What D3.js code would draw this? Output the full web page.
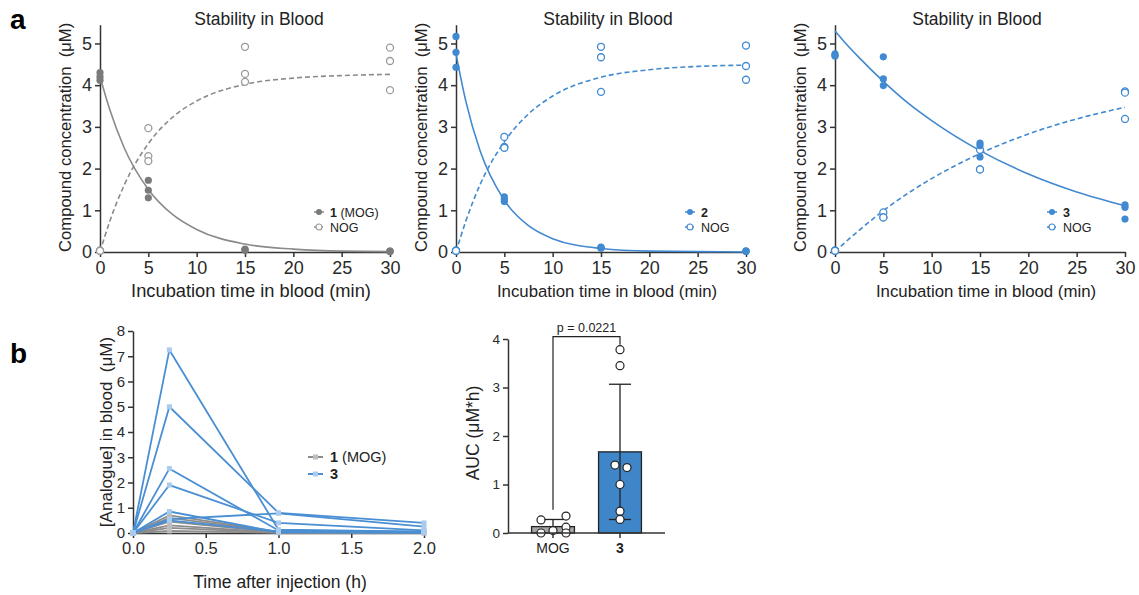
<!DOCTYPE html>
<html>
<head>
<meta charset="utf-8">
<script src="https://cdn.jsdelivr.net/npm/d3@7"></script>
<style>
body { margin: 0; background: #fff; }
svg { font-family: "Liberation Sans", Arial, sans-serif; }
</style>
</head>
<body>
<svg id="fig" width="1139" height="595"></svg>
<script>
// ---- panel a data: replicates per incubation time ----
const incubTimes = [0, 5, 15, 30]
const mogParent = [[4.3, 4.2, 4.12], [1.72, 1.48, 1.3], [0.07, 0.05, 0.04], [0.02, 0.02, 0.01]]
const mogNog = [[0.03, 0.03, 0.03], [2.97, 2.3, 2.18], [4.92, 4.27, 4.08], [4.9, 4.58, 3.88]]
const cpd2Parent = [[5.17, 4.79, 4.43], [1.32, 1.26, 1.21], [0.12, 0.1, 0.09], [0.02, 0.02, 0.02]]
const cpd2Nog = [[0.03, 0.03, 0.03], [2.76, 2.52, 2.5], [4.92, 4.67, 3.84], [4.95, 4.46, 4.13]]
const cpd3Parent = [[4.75, 4.71, 4.7], [4.68, 4.15, 3.99], [2.61, 2.55, 2.28], [1.13, 1.07, 0.79]]
const cpd3Nog = [[0.03, 0.03, 0.03], [0.95, 0.83, 0.83], [2.45, 1.98, 1.98], [3.85, 3.82, 3.19]]

// fitted curves
const fitTimes = [0, 1, 2.5, 5, 7.5, 10, 15, 20, 25, 30]
const mogFit = [4.2, 3.42, 2.5, 1.5, 0.9, 0.54, 0.19, 0.07, 0.02, 0.01]
const mogNogFit = [0, 0.73, 1.6, 2.6, 3.23, 3.62, 4.02, 4.17, 4.23, 4.26]
const cpd2Fit = [4.75, 3.63, 2.42, 1.24, 0.63, 0.32, 0.085, 0.02, 0.01, 0]
const cpd2NogFit = [0, 0.73, 1.62, 2.64, 3.31, 3.74, 4.19, 4.37, 4.45, 4.48]
const cpd3Fit = [5.3, 5.03, 4.66, 4.09, 3.58, 3.15, 2.43, 1.87, 1.44, 1.11]
const cpd3NogFit = [0, 0.22, 0.52, 0.99, 1.4, 1.76, 2.36, 2.83, 3.19, 3.47]

const xTicksA = [0, 5, 10, 15, 20, 25, 30]
const yTicksA = [0, 1, 2, 3, 4, 5]

// ---- panel b data ----
const injTimes = [0, 0.25, 1, 2]
const mogMice = [
    [0, 0.7, 0.05, 0.02],
    [0, 0.6, 0.04, 0.02],
    [0, 0.45, 0.03, 0.01],
    [0, 0.3, 0.02, 0.01],
    [0, 0.2, 0.02, 0.01],
    [0, 0.08, 0.01, 0.01]
]
const cpd3Mice = [
    [0, 7.25, 0.13, 0.05],
    [0, 5.0, 0.8, 0.4],
    [0, 2.55, 0.1, 0.05],
    [0, 1.9, 0.4, 0.1],
    [0, 0.55, 0.78, 0.25],
    [0, 0.85, 0.03, 0.02],
    [0, 0.5, 0.05, 0.02]
]
const xTicksB = [0, 0.5, 1, 1.5, 2]
const yTicksB = [0, 1, 2, 3, 4, 5, 6, 7, 8]

const aucGroups = ["MOG", "3"]
const aucMog = [0.27, 0.35, 0.12, 0.0, 0.05, 0.0]
const aucCpd3 = [3.78, 3.45, 1.4, 1.35, 1.0, 0.45, 0.28]
const yTicksAuc = [0, 1, 2, 3, 4]
const pLabel = "p = 0.0221"
const bracketTop = 4.05, bracketLeft = 0.48, bracketRight = 3.88

// ---- style ----
const blue = "#4189d0"
const grayDot = "#7a7a7a"
const grayLine = "#8a8a8a"
const grayOpen = "#9a9a9a"
const axisColor = "#333"
const intFmt = d3.format("d")

const svg = d3.select("#fig")

function styleAxis(sel, size) {
    sel.select(".domain").attr("stroke", axisColor).attr("stroke-width", 1.5)
    sel.selectAll(".tick line").attr("stroke", axisColor).attr("stroke-width", 1.5)
    sel.selectAll(".tick text").attr("fill", "#2a2a2a").attr("font-size", size)
        .attr("font-family", "Liberation Sans, Arial, sans-serif")
}

// panel letters
svg.append("text").attr("x", 10).attr("y", 29).attr("font-size", 28).attr("font-weight", "bold").text("a")
svg.append("text").attr("x", 10).attr("y", 363).attr("font-size", 28).attr("font-weight", "bold").text("b")

const panels = [
    {x0: 100, titleX: 259, legX: 319, xlabSize: 18.3, parent: mogParent, nog: mogNog, fit: mogFit, nogFit: mogNogFit,
     filled: grayDot, line: grayLine, open: grayOpen, name: "1", extra: " (MOG)"},
    {x0: 456, titleX: 608, legX: 690, xlabSize: 16.8, parent: cpd2Parent, nog: cpd2Nog, fit: cpd2Fit, nogFit: cpd2NogFit,
     filled: blue, line: blue, open: blue, name: "2", extra: ""},
    {x0: 835, titleX: 977, legX: 1052, xlabSize: 16.8, parent: cpd3Parent, nog: cpd3Nog, fit: cpd3Fit, nogFit: cpd3NogFit,
     filled: blue, line: blue, open: blue, name: "3", extra: ""}
]

panels.forEach(p => {
    const g = svg.append("g")
    const x = d3.scaleLinear().domain([0, 30]).range([p.x0, p.x0 + 290])
    const y = d3.scaleLinear().domain([0, 5.45]).range([252, 24.7])

    g.append("g").attr("transform", "translate(0,252)")
        .call(d3.axisBottom(x).tickValues(xTicksA).tickFormat(intFmt).tickSize(5).tickSizeOuter(0).tickPadding(4))
        .call(styleAxis, 18)
    g.append("g").attr("transform", `translate(${p.x0},0)`)
        .call(d3.axisLeft(y).tickValues(yTicksA).tickFormat(intFmt).tickSize(5).tickSizeOuter(0).tickPadding(3))
        .call(styleAxis, 18)

    g.append("text").attr("x", p.titleX).attr("y", 25).attr("text-anchor", "middle")
        .attr("font-size", 17.5).attr("fill", "#222").text("Stability in Blood")
    g.append("text").attr("x", (x(0) + x(30)) / 2 + 6).attr("y", 297).attr("text-anchor", "middle")
        .attr("font-size", p.xlabSize).attr("fill", "#222").text("Incubation time in blood (min)")
    g.append("text").attr("transform", `translate(${p.x0 - 29},${(252 + 24.7) / 2 - 1}) rotate(-90)`)
        .attr("text-anchor", "middle").attr("font-size", 16.6).attr("fill", "#222")
        .attr("xml:space", "preserve").text("Compound concentration  (μM)")

    const line = d3.line().x((d, i) => x(fitTimes[i])).y(d => y(d)).curve(d3.curveMonotoneX)
    g.append("path").attr("d", line(p.fit)).attr("fill", "none").attr("stroke", p.line).attr("stroke-width", 1.6)
    g.append("path").attr("d", line(p.nogFit)).attr("fill", "none").attr("stroke", p.line)
        .attr("stroke-width", 1.6).attr("stroke-dasharray", "5,3")

    p.nog.forEach((reps, i) => reps.forEach(v => {
        g.append("circle").attr("cx", x(incubTimes[i])).attr("cy", y(v)).attr("r", 3.5)
            .attr("fill", "#fff").attr("stroke", p.open).attr("stroke-width", 1.3)
    }))
    p.parent.forEach((reps, i) => reps.forEach(v => {
        g.append("circle").attr("cx", x(incubTimes[i])).attr("cy", y(v)).attr("r", 3.6).attr("fill", p.filled)
    }))

    // legend
    const leg = g.append("g").attr("transform", `translate(${p.legX},0)`)
    leg.append("line").attr("x1", -5).attr("x2", 5).attr("y1", 212).attr("y2", 212).attr("stroke", p.line).attr("stroke-width", 1.5)
    leg.append("circle").attr("cy", 212).attr("r", 3).attr("fill", p.filled)
    leg.append("line").attr("x1", -5).attr("x2", 5).attr("y1", 227).attr("y2", 227).attr("stroke", p.line)
        .attr("stroke-width", 1.5).attr("stroke-dasharray", "2,1.5")
    leg.append("circle").attr("cy", 227).attr("r", 3).attr("fill", "#fff").attr("stroke", p.open).attr("stroke-width", 1.2)
    const t1 = leg.append("text").attr("x", 11).attr("y", 216.5).attr("font-size", 12.5).attr("fill", "#222")
    t1.append("tspan").attr("font-weight", "bold").text(p.name)
    t1.append("tspan").text(p.extra)
    leg.append("text").attr("x", 11).attr("y", 231.5).attr("font-size", 12.5).attr("fill", "#222").text("NOG")
})

// ---- panel b, left: PK curves ----
{
    const g = svg.append("g")
    const x = d3.scaleLinear().domain([0, 2]).range([133, 424])
    const y = d3.scaleLinear().domain([0, 8]).range([533, 331])

    g.append("g").attr("transform", "translate(0,533)")
        .call(d3.axisBottom(x).tickValues(xTicksB).tickFormat(d3.format(".1f")).tickSize(5).tickSizeOuter(0).tickPadding(4))
        .call(styleAxis, 16.5)
    g.append("g").attr("transform", "translate(133,0)")
        .call(d3.axisLeft(y).tickValues(yTicksB).tickFormat(intFmt).tickSize(5).tickSizeOuter(0).tickPadding(3))
        .call(styleAxis, 15)

    g.append("text").attr("x", 280).attr("y", 588).attr("text-anchor", "middle")
        .attr("font-size", 17.5).attr("fill", "#222").text("Time after injection (h)")
    g.append("text").attr("transform", "translate(112,432) rotate(-90)")
        .attr("text-anchor", "middle").attr("font-size", 17).attr("fill", "#222")
        .attr("xml:space", "preserve").text("[Analogue] in blood  (μM)")

    const line = d3.line().x((d, i) => x(injTimes[i])).y(d => y(d))
    const series = [
        {mice: mogMice, stroke: "#8c8c8c", mark: "#bdbdbd"},
        {mice: cpd3Mice, stroke: "#4a8fd3", mark: "#a9cbee"}
    ]
    series.forEach(s => {
        s.mice.forEach(m => {
            g.append("path").attr("d", line(m)).attr("fill", "none").attr("stroke", s.stroke).attr("stroke-width", 1.8)
        })
        s.mice.forEach(m => m.forEach((v, i) => {
            g.append("rect").attr("x", x(injTimes[i]) - 2.5).attr("y", y(v) - 2.5).attr("width", 5).attr("height", 5)
                .attr("fill", s.mark)
        }))
    })

    // legend
    const legRows = [{stroke: "#8c8c8c", mark: "#bdbdbd", name: "1", extra: " (MOG)", y: 457},
                     {stroke: "#4a8fd3", mark: "#a9cbee", name: "3", extra: "", y: 474}]
    legRows.forEach(r => {
        g.append("line").attr("x1", 308).attr("x2", 323).attr("y1", r.y).attr("y2", r.y).attr("stroke", r.stroke).attr("stroke-width", 2)
        g.append("rect").attr("x", 313).attr("y", r.y - 2.5).attr("width", 5).attr("height", 5).attr("fill", r.mark)
        const t = g.append("text").attr("x", 330).attr("y", r.y + 5).attr("font-size", 14.5).attr("fill", "#222")
        t.append("tspan").attr("font-weight", "bold").text(r.name)
        t.append("tspan").text(r.extra)
    })
}

// ---- panel b, right: AUC bar chart ----
{
    const g = svg.append("g")
    const x = d3.scaleBand().domain(aucGroups).range([519.5, 653.5]).paddingInner(0.36).paddingOuter(0.18)
    const y = d3.scaleLinear().domain([0, 4]).range([533, 339])
    const groups = [
        {key: "MOG", vals: aucMog, fill: "#a6a6a6", jitter: [-12, 13, 13, -12, 0, 13]},
        {key: "3", vals: aucCpd3, fill: "#3f86c8", jitter: [0, 0, -5, 7, 0, 0, 0]}
    ]

    groups.forEach(gr => {
        const m = d3.mean(gr.vals), sd = d3.deviation(gr.vals)
        const cx = x(gr.key) + x.bandwidth() / 2
        g.append("rect").attr("x", x(gr.key)).attr("y", y(m)).attr("width", x.bandwidth()).attr("height", y(0) - y(m))
            .attr("fill", gr.fill).attr("stroke", "#222").attr("stroke-width", 1.3)
        const lo = Math.max(m - sd, 0)
        g.append("line").attr("x1", cx).attr("x2", cx).attr("y1", y(lo)).attr("y2", y(m + sd)).attr("stroke", "#222").attr("stroke-width", 1.3)
        g.append("line").attr("x1", cx - 11).attr("x2", cx + 11).attr("y1", y(m + sd)).attr("y2", y(m + sd)).attr("stroke", "#222").attr("stroke-width", 1.3)
        if (m - sd > 0) {
            g.append("line").attr("x1", cx - 11).attr("x2", cx + 11).attr("y1", y(lo)).attr("y2", y(lo)).attr("stroke", "#222").attr("stroke-width", 1.3)
        }
        gr.vals.forEach((v, i) => {
            g.append("circle").attr("cx", cx + gr.jitter[i]).attr("cy", y(v)).attr("r", 4)
                .attr("fill", "#fff").attr("stroke", "#222").attr("stroke-width", 1.2)
        })
    })

    g.append("g").attr("transform", "translate(508,0)")
        .call(d3.axisLeft(y).tickValues(yTicksAuc).tickFormat(intFmt).tickSize(5).tickSizeOuter(0).tickPadding(3))
        .call(styleAxis, 13.5)
    g.append("line").attr("x1", 508).attr("x2", 665).attr("y1", 533).attr("y2", 533).attr("stroke", axisColor).attr("stroke-width", 1.5)
    aucGroups.forEach(k => {
        const cx = x(k) + x.bandwidth() / 2
        g.append("line").attr("x1", cx).attr("x2", cx).attr("y1", 533).attr("y2", 538).attr("stroke", axisColor).attr("stroke-width", 1.5)
        g.append("text").attr("x", cx).attr("y", 553).attr("text-anchor", "middle").attr("font-size", 14).attr("fill", "#222")
            .attr("font-weight", k === "3" ? "bold" : "normal").text(k)
    })

    g.append("text").attr("transform", "translate(479,433) rotate(-90)").attr("text-anchor", "middle")
        .attr("font-size", 17.5).attr("fill", "#222").text("AUC (μM*h)")

    const xl = x("MOG") + x.bandwidth() / 2, xr = x("3") + x.bandwidth() / 2
    g.append("path").attr("d", `M${xl},${y(bracketLeft)}V${y(bracketTop)}H${xr}V${y(bracketRight)}`)
        .attr("fill", "none").attr("stroke", "#222").attr("stroke-width", 1.2)
    g.append("text").attr("x", (xl + xr) / 2).attr("y", y(bracketTop) - 5).attr("text-anchor", "middle")
        .attr("font-size", 12.5).attr("fill", "#222").text(pLabel)
}
</script>
</body>
</html>
